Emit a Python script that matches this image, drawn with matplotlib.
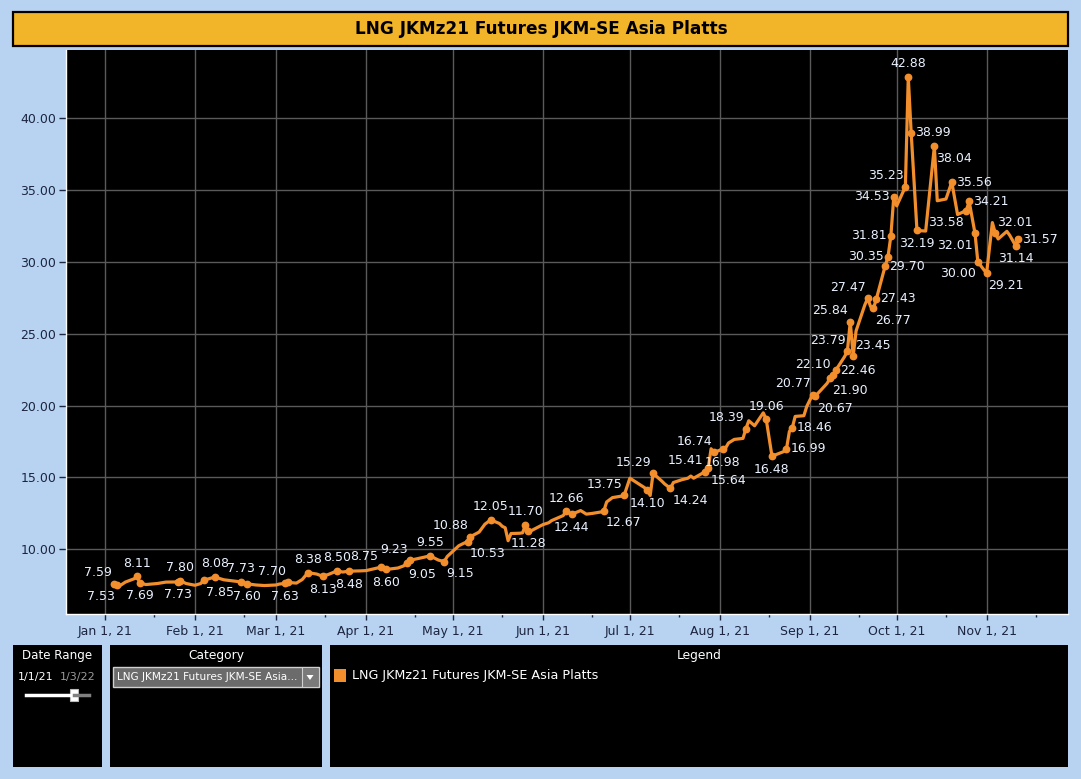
import matplotlib
matplotlib.use('Agg')
import matplotlib.pyplot as plt
import matplotlib.dates as mdates
from matplotlib.patches import Rectangle, Polygon
from matplotlib.lines import Line2D
import pandas as pd

# ---------------- data ----------------
title = "LNG JKMz21 Futures JKM-SE Asia Platts"
series_name = "LNG JKMz21 Futures JKM-SE Asia Platts"

dates = [
    "2021-01-04", "2021-01-05", "2021-01-06", "2021-01-08", "2021-01-11", "2021-01-12",
    "2021-01-13", "2021-01-15", "2021-01-19", "2021-01-22", "2021-01-26", "2021-01-27",
    "2021-01-29", "2021-02-01", "2021-02-03", "2021-02-04", "2021-02-08", "2021-02-09",
    "2021-02-11", "2021-02-15", "2021-02-17", "2021-02-19", "2021-02-22", "2021-02-25",
    "2021-03-01", "2021-03-02", "2021-03-04", "2021-03-05", "2021-03-08", "2021-03-10",
    "2021-03-12", "2021-03-15", "2021-03-17", "2021-03-19", "2021-03-22", "2021-03-24",
    "2021-03-26", "2021-03-30", "2021-04-01", "2021-04-06", "2021-04-08", "2021-04-12",
    "2021-04-14", "2021-04-15", "2021-04-16", "2021-04-21", "2021-04-23", "2021-04-26",
    "2021-04-28", "2021-04-29", "2021-05-03", "2021-05-05", "2021-05-06", "2021-05-07",
    "2021-05-10", "2021-05-12", "2021-05-13", "2021-05-14", "2021-05-17", "2021-05-18",
    "2021-05-19", "2021-05-20", "2021-05-21", "2021-05-24", "2021-05-25", "2021-05-26",
    "2021-05-27", "2021-05-28", "2021-06-01", "2021-06-03", "2021-06-04", "2021-06-08",
    "2021-06-09", "2021-06-11", "2021-06-14", "2021-06-16", "2021-06-18", "2021-06-21",
    "2021-06-22", "2021-06-23", "2021-06-25", "2021-06-28", "2021-06-29", "2021-07-01",
    "2021-07-06", "2021-07-07", "2021-07-08", "2021-07-09", "2021-07-12", "2021-07-13",
    "2021-07-15", "2021-07-16", "2021-07-19", "2021-07-21", "2021-07-22", "2021-07-23",
    "2021-07-26", "2021-07-27", "2021-07-28", "2021-07-29", "2021-07-30", "2021-08-02",
    "2021-08-03", "2021-08-04", "2021-08-06", "2021-08-09", "2021-08-10", "2021-08-11",
    "2021-08-13", "2021-08-16", "2021-08-17", "2021-08-19", "2021-08-23", "2021-08-24",
    "2021-08-25", "2021-08-26", "2021-08-27", "2021-08-30", "2021-08-31", "2021-09-02",
    "2021-09-03", "2021-09-07", "2021-09-08", "2021-09-09", "2021-09-10", "2021-09-13",
    "2021-09-14", "2021-09-15", "2021-09-16", "2021-09-17", "2021-09-20", "2021-09-21",
    "2021-09-22", "2021-09-23", "2021-09-24", "2021-09-27", "2021-09-28", "2021-09-29",
    "2021-09-30", "2021-10-01", "2021-10-04", "2021-10-05", "2021-10-06", "2021-10-08",
    "2021-10-11", "2021-10-14", "2021-10-15", "2021-10-18", "2021-10-20", "2021-10-22",
    "2021-10-25", "2021-10-26", "2021-10-28", "2021-10-29", "2021-11-01", "2021-11-03",
    "2021-11-04", "2021-11-05", "2021-11-08", "2021-11-09", "2021-11-11", "2021-11-12",
]

prices = [
    7.59, 7.53, 7.45, 7.72, 7.95, 8.11,
    7.69, 7.55, 7.62, 7.72, 7.73, 7.80,
    7.62, 7.50, 7.62, 7.85, 8.08, 8.00,
    7.88, 7.78, 7.73, 7.60, 7.52, 7.48,
    7.52, 7.58, 7.63, 7.70, 7.65, 7.90,
    8.38, 8.28, 8.13, 8.25, 8.50, 8.42,
    8.48, 8.50, 8.52, 8.75, 8.60, 8.70,
    8.85, 9.05, 9.23, 9.45, 9.55, 9.25,
    9.15, 9.50, 10.25, 10.45, 10.53, 10.88,
    11.20, 11.75, 11.90, 12.05, 11.80, 11.60,
    11.50, 10.60, 11.10, 11.12, 11.15, 11.70,
    11.28, 11.30, 11.72, 11.85, 12.00, 12.35,
    12.66, 12.44, 12.70, 12.45, 12.50, 12.60,
    12.67, 13.30, 13.60, 13.70, 13.75, 14.95,
    14.30, 14.10, 13.75, 15.29, 14.75, 14.55,
    14.24, 14.65, 14.85, 14.95, 15.10, 14.95,
    15.30, 15.41, 15.64, 17.00, 16.74, 16.98,
    17.05, 17.40, 17.65, 17.72, 18.39, 18.95,
    18.60, 19.50, 19.06, 16.48, 16.80, 16.99,
    18.20, 18.46, 19.25, 19.30, 19.95, 20.77,
    20.67, 21.55, 21.90, 22.10, 22.46, 23.40,
    23.79, 25.84, 23.45, 25.20, 27.00, 27.47,
    26.90, 26.77, 27.43, 29.70, 30.35, 31.81,
    34.53, 33.90, 35.23, 42.88, 38.99, 32.19,
    32.15, 38.04, 34.26, 34.38, 35.56, 33.30,
    33.58, 34.21, 32.01, 30.00, 29.21, 32.74,
    32.01, 31.60, 32.13, 31.85, 31.14, 31.57,
]

# dates that carry a value label, with the side the label sits on
label_dates = [
    "2021-01-04", "2021-01-05", "2021-01-12", "2021-01-13", "2021-01-26", "2021-01-27",
    "2021-02-04", "2021-02-08", "2021-02-17", "2021-02-19", "2021-03-04", "2021-03-05",
    "2021-03-12", "2021-03-17", "2021-03-22", "2021-03-26", "2021-04-06", "2021-04-08",
    "2021-04-15", "2021-04-16", "2021-04-23", "2021-04-28", "2021-05-06", "2021-05-07",
    "2021-05-14", "2021-05-26", "2021-05-27", "2021-06-09", "2021-06-11", "2021-06-22",
    "2021-06-29", "2021-07-07", "2021-07-09", "2021-07-15", "2021-07-27", "2021-07-28",
    "2021-07-30", "2021-08-02", "2021-08-10", "2021-08-17", "2021-08-19", "2021-08-24",
    "2021-08-26", "2021-09-02", "2021-09-03", "2021-09-08", "2021-09-09", "2021-09-10",
    "2021-09-14", "2021-09-15", "2021-09-16", "2021-09-21", "2021-09-23", "2021-09-24",
    "2021-09-27", "2021-09-28", "2021-09-29", "2021-09-30", "2021-10-04", "2021-10-05",
    "2021-10-06", "2021-10-08", "2021-10-14", "2021-10-20", "2021-10-25", "2021-10-26",
    "2021-10-28", "2021-10-29", "2021-11-01", "2021-11-04", "2021-11-11", "2021-11-12",
]
label_sides = [
    "al", "bl", "a", "b", "b", "a",
    "br", "a", "a", "b", "b", "al",
    "a", "b", "a", "b", "al", "b",
    "br", "al", "a", "br", "br", "al",
    "a", "a", "b", "a", "b", "br",
    "al", "b", "al", "br", "al", "br",
    "al", "b", "al", "a", "b", "r",
    "r", "al", "br", "br", "al", "r",
    "al", "al", "ar", "al", "br", "r",
    "r", "l", "l", "l", "al", "a",
    "r", "b", "br", "r", "bl", "r",
    "bl", "bl", "br", "ar", "b", "r",
]

y_ticks = [10, 15, 20, 25, 30, 35, 40]
month_ticks = ["2021-01-01", "2021-02-01", "2021-03-01", "2021-04-01", "2021-05-01", "2021-06-01",
               "2021-07-01", "2021-08-01", "2021-09-01", "2021-10-01", "2021-11-01"]
month_labels = ["Jan 1, 21", "Feb 1, 21", "Mar 1, 21", "Apr 1, 21", "May 1, 21", "Jun 1, 21",
                "Jul 1, 21", "Aug 1, 21", "Sep 1, 21", "Oct 1, 21", "Nov 1, 21"]
category_text = "LNG JKMz21 Futures JKM-SE Asia..."
range_start, range_end = "1/1/21", "1/3/22"

# ---------------- styling ----------------
BG = '#B8D3F1'
ORANGE = '#F28E2B'
TITLE_BAR = '#F2B428'
AXIS_TXT = '#1c2540'
LBL = '#EAF2FF'
GRID = '#5a5a5a'

W, H = 1081, 779
fig = plt.figure(figsize=(W / 100, H / 100), dpi=100)
fig.patch.set_facecolor(BG)


def fx(px):
    return px / W


def fy(py):
    return 1 - py / H


def box(x0, y0, x1, y1, **kw):
    r = Rectangle((fx(x0), fy(y1)), (x1 - x0) / W, (y1 - y0) / H,
                  transform=fig.transFigure, **kw)
    fig.patches.append(r)
    return r


# title bar
box(13, 12, 1068, 46, facecolor=TITLE_BAR, edgecolor='black', linewidth=1.6)
fig.text(fx(541), fy(29), title, ha='center', va='center', fontsize=12.2,
         fontweight='bold', color='black')

# main axes
ax = fig.add_axes([fx(66), fy(614), (1068 - 66) / W, (614 - 50) / H])
ax.set_facecolor('black')

x = pd.to_datetime(dates)
ax.plot(x, prices, color=ORANGE, linewidth=2.3, solid_joinstyle='round',
        solid_capstyle='round', zorder=3)

price_by_date = dict(zip(dates, prices))
lx = pd.to_datetime(label_dates)
ly = [price_by_date[d] for d in label_dates]
ax.plot(lx, ly, linestyle='none', marker='o', markersize=4.6, color=ORANGE, zorder=4)

p2pt = 0.72
offsets = {
    'a': (0, 13, 'center'), 'b': (0, -13, 'center'),
    'l': (-4, 0, 'right'), 'r': (4, 0, 'left'),
    'al': (-2, 11, 'right'), 'ar': (2, 11, 'left'),
    'bl': (-2, -12, 'right'), 'br': (2, -12, 'left'),
}
for d, v, s in zip(lx, ly, label_sides):
    dx, dy, ha = offsets[s]
    ax.annotate(f"{v:.2f}", (d, v), xytext=(dx * p2pt, dy * p2pt),
                textcoords='offset points', ha=ha, va='center',
                fontsize=9, color=LBL, zorder=5)

ax.set_xlim(mdates.date2num(pd.Timestamp('2020-12-18 13:00')),
            mdates.date2num(pd.Timestamp('2021-11-29 02:00')))
ax.set_ylim(5.5, 44.75)

ax.set_yticks(y_ticks)
ax.set_yticklabels([f"{t:.2f}" for t in y_ticks])
mt = pd.to_datetime(month_ticks)
ax.set_xticks(mt)
ax.set_xticklabels(month_labels)
minor = [m + pd.Timedelta(days=17) for m in mt]
ax.set_xticks(minor, minor=True)

ax.grid(True, which='major', color=GRID, linewidth=1.0, zorder=1)
ax.set_axisbelow(True)
for s in ['top', 'right']:
    ax.spines[s].set_visible(False)
for s in ['left', 'bottom']:
    ax.spines[s].set_color('white')
    ax.spines[s].set_linewidth(1.0)
ax.tick_params(axis='y', colors=AXIS_TXT, labelsize=9, length=5, width=1, pad=2)
ax.tick_params(axis='x', which='major', colors=AXIS_TXT, labelsize=9, length=4, width=1, pad=4)
ax.tick_params(axis='x', which='minor', colors=AXIS_TXT, length=2, width=1)

# ---------------- bottom panels ----------------
box(13, 645, 102, 767, facecolor='black', edgecolor='none')
box(110, 645, 322, 767, facecolor='black', edgecolor='none')
box(330, 645, 1068, 767, facecolor='black', edgecolor='none')

fig.text(fx(57.5), fy(655), "Date Range", ha='center', va='center', fontsize=8.6,
         color='white')
fig.text(fx(35.5), fy(677), range_start, ha='center', va='center', fontsize=8, color='white')
fig.text(fx(78), fy(677), range_end, ha='center', va='center', fontsize=8, color='#9a9a9a')
fig.lines.append(Line2D([fx(26), fx(74)], [fy(695), fy(695)], transform=fig.transFigure,
                        color='white', linewidth=2.5))
fig.lines.append(Line2D([fx(74), fx(89)], [fy(695), fy(695)], transform=fig.transFigure,
                        color='#808080', linewidth=2.5))
box(70, 689, 78, 701, facecolor='white', edgecolor='#bbbbbb', linewidth=0.8)

fig.text(fx(216), fy(655), "Category", ha='center', va='center', fontsize=8.8,
         color='white')
box(113, 667, 318.5, 687, facecolor='#6b6b6b', edgecolor='#d0d0d0', linewidth=1)
box(301.5, 668, 318, 686, facecolor='#7a7a7a', edgecolor='none')
fig.lines.append(Line2D([fx(301.5), fx(301.5)], [fy(668), fy(686)], transform=fig.transFigure,
                        color='#d0d0d0', linewidth=0.8))
fig.text(fx(117), fy(677.5), category_text, ha='left', va='center', fontsize=7.6, color='white')
tri = Polygon([[fx(306.5), fy(675)], [fx(313.5), fy(675)], [fx(310), fy(680)]],
              closed=True, transform=fig.transFigure, facecolor='white', edgecolor='none')
fig.patches.append(tri)

fig.text(fx(699), fy(655), "Legend", ha='center', va='center', fontsize=8.8,
         color='white')
box(334, 669, 346, 682, facecolor=ORANGE, edgecolor='none')
fig.text(fx(352), fy(675.5), series_name, ha='left', va='center', fontsize=9.2, color='white')

fig.savefig('out.png', dpi=100, facecolor=fig.get_facecolor())
